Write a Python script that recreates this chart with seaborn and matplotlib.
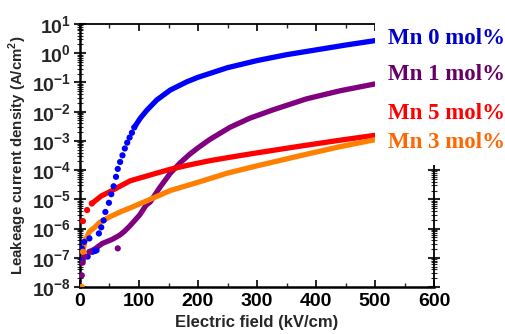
import numpy as np
import pandas as pd
import matplotlib
matplotlib.use("Agg")
import matplotlib.pyplot as plt
import matplotlib.ticker as mticker
import seaborn as sns

# -------------------------------
# datos
# -------------------------------
mn0_field = [3, 4.5, 7, 13, 16, 21, 25, 28, 32, 36, 40, 43, 49, 53, 57, 61, 64, 68,
             72, 76, 80, 84, 88, 92, 102, 113, 130, 153, 181, 200, 250, 300, 350,
             400, 450, 500]
mn0_current = [2.1e-7, 8.3e-8, 3.5e-7, 1.1e-7, 4.6e-7, 1.6e-7, 1.7e-7, 1.8e-7,
               6.8e-7, 1.1e-6, 1.9e-6, 3.7e-6, 7.6e-6, 1.5e-5, 2.8e-5, 5.9e-5,
               1.1e-4, 1.9e-4, 3.2e-4, 5.5e-4, 8.7e-4, 1.3e-3, 1.9e-3, 2.9e-3,
               5.9e-3, 1.1e-2, 2.5e-2, 5.5e-2, 0.105, 0.15, 0.32, 0.56, 0.89, 1.3,
               1.9, 2.7]

mn1_field = [3, 4.5, 8, 16, 25, 38, 55, 67, 75, 84, 101, 112, 119, 135, 153, 170,
             186, 200, 220, 254, 288, 328, 384, 441, 500]
mn1_current = [2.5e-8, 6.8e-8, 1.1e-7, 1.6e-7, 2.0e-7, 3.1e-7, 4.3e-7, 5.9e-7,
               7.9e-7, 1.2e-6, 2.9e-6, 6.3e-6, 8.1e-6, 2.5e-5, 7.8e-5, 1.8e-4,
               3.5e-4, 5.8e-4, 1.12e-3, 2.9e-3, 6.0e-3, 1.17e-2, 2.75e-2, 5.2e-2,
               8.9e-2]
mn1_stray_field = [64]
mn1_stray_current = [2.1e-7]

mn3_field = [3, 5, 8, 16, 25, 33, 50, 72, 90, 119, 153, 203, 250, 300, 384, 440, 500]
mn3_current = [1.0e-8, 1.6e-7, 3.5e-7, 7.9e-7, 1.1e-6, 1.6e-6, 2.5e-6, 4.0e-6,
               5.6e-6, 1.0e-5, 2.0e-5, 4.0e-5, 7.9e-5, 1.4e-4, 3.5e-4, 6.3e-4,
               1.1e-3]

mn5_field = [5, 12, 20, 36, 50, 85, 120, 153, 185, 220, 254, 300, 373, 440, 500]
mn5_current = [1.8e-6, 4.3e-6, 7.2e-6, 1.3e-5, 1.8e-5, 4.3e-5, 6.9e-5, 1.07e-4,
               1.5e-4, 2.1e-4, 2.75e-4, 3.9e-4, 6.6e-4, 1.05e-3, 1.55e-3]

series_names = ["Mn 0 mol%", "Mn 1 mol%", "Mn 5 mol%", "Mn 3 mol%"]
x_ticks = [0, 100, 200, 300, 400, 500, 600]
y_exponents = [-8, -7, -6, -5, -4, -3, -2, -1, 0, 1]

# -------------------------------
# estilo
# -------------------------------
colores = {"Mn 0 mol%": "#0000ff", "Mn 1 mol%": "#800080",
           "Mn 5 mol%": "#ff0000", "Mn 3 mol%": "#ff8000"}
colores_texto = {"Mn 0 mol%": "#0000cc", "Mn 1 mol%": "#660066",
                 "Mn 5 mol%": "#ff0000", "Mn 3 mol%": "#ff6600"}
# desde donde los puntos se funden en una linea continua
linea_desde = {"Mn 0 mol%": 92, "Mn 1 mol%": 16, "Mn 5 mol%": 20, "Mn 3 mol%": 5}
# posicion de las etiquetas (y en datos)
etiqueta_y = {"Mn 0 mol%": 3.3, "Mn 1 mol%": 0.18, "Mn 5 mol%": 0.009, "Mn 3 mol%": 9e-4}

sns.set_theme(style="ticks")
plt.rcParams["font.family"] = ["Liberation Sans", "DejaVu Sans"]
plt.rcParams["mathtext.fontset"] = "custom"
plt.rcParams["mathtext.rm"] = "Liberation Sans"
plt.rcParams["mathtext.bf"] = "Liberation Sans:bold"

df = pd.concat([
    pd.DataFrame({"field": mn0_field, "J": mn0_current, "serie": "Mn 0 mol%"}),
    pd.DataFrame({"field": mn1_field, "J": mn1_current, "serie": "Mn 1 mol%"}),
    pd.DataFrame({"field": mn5_field, "J": mn5_current, "serie": "Mn 5 mol%"}),
    pd.DataFrame({"field": mn3_field, "J": mn3_current, "serie": "Mn 3 mol%"}),
], ignore_index=True)
stray = pd.DataFrame({"field": mn1_stray_field, "J": mn1_stray_current, "serie": "Mn 1 mol%"})

fig = plt.figure(figsize=(5.06, 3.34), dpi=100)
ax = fig.add_axes([80 / 506, 1 - 287 / 334, 354 / 506, 263 / 334])

puntos = [stray]
for nombre in series_names:
    serie = df[df["serie"] == nombre]
    continua = serie[serie["field"] >= linea_desde[nombre]]
    sns.lineplot(data=continua, x="field", y="J", ax=ax, color=colores[nombre],
                 lw=3.8, sort=False, estimator=None, legend=False)
    puntos.append(serie[serie["field"] <= linea_desde[nombre]])

sns.scatterplot(data=pd.concat(puntos), x="field", y="J", hue="serie",
                palette=colores, s=20, linewidth=0, ax=ax, legend=False, zorder=3)

ax.set_yscale("log")
ax.set_xlim(0, 600)
ax.set_ylim(1e-8, 10)

ax.set_xticks(x_ticks)
ax.set_xticklabels([str(t) for t in x_ticks], fontsize=14, fontweight="bold")
ax.xaxis.set_minor_locator(mticker.MultipleLocator(50))

ax.set_yticks([10.0 ** e for e in y_exponents])
ax.set_yticklabels([r"$\mathbf{10^{%d}}$" % e for e in y_exponents], fontsize=14)
ax.yaxis.set_minor_locator(mticker.LogLocator(base=10, subs=np.arange(2, 10), numticks=20))
ax.yaxis.set_minor_formatter(mticker.NullFormatter())

ax.tick_params(axis="x", which="major", direction="in", length=5, width=1.2,
               top=True, pad=4, colors="black")
ax.tick_params(axis="x", which="minor", direction="in", length=3, width=1.0, top=True)
ax.tick_params(axis="y", which="major", direction="inout", length=9, width=1.5,
               right=True, pad=2)
ax.tick_params(axis="y", which="minor", direction="inout", length=5, width=0.8, right=True)

for lado in ["left", "bottom", "top", "right"]:
    ax.spines[lado].set_visible(True)
    ax.spines[lado].set_color("black")
    ax.spines[lado].set_linewidth(1.3)
ax.spines["left"].set_linewidth(1.8)
ax.spines["bottom"].set_linewidth(1.8)

ax.set_xlabel("Electric field (kV/cm)", fontsize=12, fontweight="bold", labelpad=4)
ax.set_ylabel("Leakeage current density (A/cm$^\\mathbf{2}$)", fontsize=10.8,
              fontweight="bold", labelpad=2)

for nombre in series_names:
    ax.text(522, etiqueta_y[nombre], nombre, color=colores_texto[nombre],
            fontsize=16.5, fontweight="bold", family=["Liberation Serif", "DejaVu Serif"],
            va="center", ha="left", clip_on=False, zorder=10,
            bbox=dict(facecolor="white", edgecolor="none", pad=9))

fig.savefig("out.png", dpi=100, facecolor="white")
